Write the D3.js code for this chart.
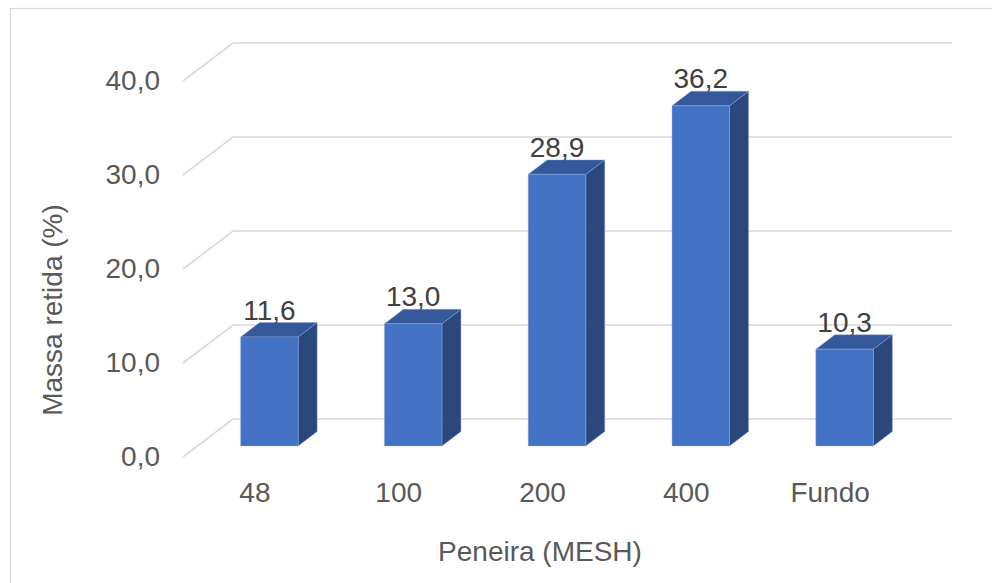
<!DOCTYPE html>
<html>
<head>
<meta charset="utf-8">
<script src="https://cdn.jsdelivr.net/npm/d3@7"></script>
<style>
  html, body { margin: 0; padding: 0; background: #fff; }
  svg { display: block; font-family: "Liberation Sans", Arial, sans-serif; }
</style>
</head>
<body>
<svg id="chart" width="992" height="583"></svg>
<script>
// Sieve fractions (mesh) and retained mass in percent
const categories = ["48", "100", "200", "400", "Fundo"];
const massRetained = [11.6, 13.0, 28.9, 36.2, 10.3];
const yTicks = [0, 10, 20, 30, 40];
const yTitle = "Massa retida (%)";
const xTitle = "Peneira (MESH)";

const W = 992, H = 583;
const svg = d3.select("#chart");

// Decimal comma formatting (pt-BR)
const locale = d3.formatLocale({ decimal: ",", thousands: ".", grouping: [3], currency: ["R$", ""] });
const fmt = locale.format(".1f");

// Oblique 3D projection: z = 0 is the front plane, z = 1 the back wall
const DX = 50, DY = 38;
const x = d3.scaleBand().domain(categories).range([183, 902]);
const y = d3.scaleLinear().domain([0, 40]).range([457, 81]);
const P = (px, v, z) => [px + z * DX, y(v) - z * DY];

// Chart frame
svg.append("rect")
  .attr("x", 10.5).attr("y", 8.5)
  .attr("width", W).attr("height", H)
  .attr("fill", "none").attr("stroke", "#d9d9d9").attr("stroke-width", 1.2);

// Gridlines on the back wall plus the receding lines on the side wall
const grid = svg.append("g").attr("stroke", "#d9d9d9").attr("stroke-width", 1.6).attr("fill", "none");
const [x0, x1] = x.range();
yTicks.forEach(v => {
  const a = P(x0, v, 0), b = P(x0, v, 1), c = P(x1, v, 1);
  grid.append("path").attr("d", `M${a[0]},${a[1]}L${b[0]},${b[1]}L${c[0]},${c[1]}`);
});

// Value axis
const yAxis = d3.axisLeft(y).tickValues(yTicks).tickFormat(fmt).tickSize(0).tickPadding(23);
const gy = svg.append("g").attr("transform", `translate(${x0},0)`).call(yAxis);
gy.select(".domain").remove();
gy.selectAll("text").attr("font-size", 28).attr("fill", "#595959")
  .attr("font-family", "Liberation Sans, Arial, sans-serif");

// Category axis
const xAxis = d3.axisBottom(x).tickSize(0).tickPadding(25);
const gx = svg.append("g").attr("transform", `translate(0,${y(0)})`).call(xAxis);
gx.select(".domain").remove();
gx.selectAll("text").attr("font-size", 28).attr("fill", "#595959")
  .attr("font-family", "Liberation Sans, Arial, sans-serif");

// 3D columns
const Z0 = 0.29, Z1 = 0.67;
const barW = x.bandwidth() * 0.4;
const colFront = "#4472c4", colTop = "#34589a", colSide = "#2a487e";
const edge = "rgba(140,170,225,0.55)";

const bars = svg.append("g");
categories.forEach((cat, i) => {
  const v = massRetained[i];
  const left = x(cat) + (x.bandwidth() - barW) / 2;
  const right = left + barW;
  const poly = pts => "M" + pts.map(p => p.join(",")).join("L") + "Z";
  const g = bars.append("g");
  // right side face
  g.append("path").attr("d", poly([P(right, 0, Z0), P(right, 0, Z1), P(right, v, Z1), P(right, v, Z0)]))
    .attr("fill", colSide).attr("stroke", edge).attr("stroke-width", 0.8);
  // top face
  g.append("path").attr("d", poly([P(left, v, Z0), P(right, v, Z0), P(right, v, Z1), P(left, v, Z1)]))
    .attr("fill", colTop).attr("stroke", edge).attr("stroke-width", 0.8);
  // front face
  g.append("path").attr("d", poly([P(left, 0, Z0), P(right, 0, Z0), P(right, v, Z0), P(left, v, Z0)]))
    .attr("fill", colFront).attr("stroke", edge).attr("stroke-width", 0.8);

  // value label above the column
  const frontTop = P((left + right) / 2, v, Z0);
  const backTop = P(left, v, Z1);
  svg.append("text")
    .attr("x", frontTop[0]).attr("y", backTop[1] - 3)
    .attr("text-anchor", "middle")
    .attr("font-size", 28).attr("fill", "#404040")
    .text(fmt(v));
});

// Axis titles
svg.append("text")
  .attr("transform", `translate(62,310) rotate(-90)`)
  .attr("text-anchor", "middle")
  .attr("font-size", 28).attr("fill", "#595959")
  .text(yTitle);

svg.append("text")
  .attr("x", 540).attr("y", 561)
  .attr("text-anchor", "middle")
  .attr("font-size", 28).attr("fill", "#595959")
  .text(xTitle);
</script>
</body>
</html>
